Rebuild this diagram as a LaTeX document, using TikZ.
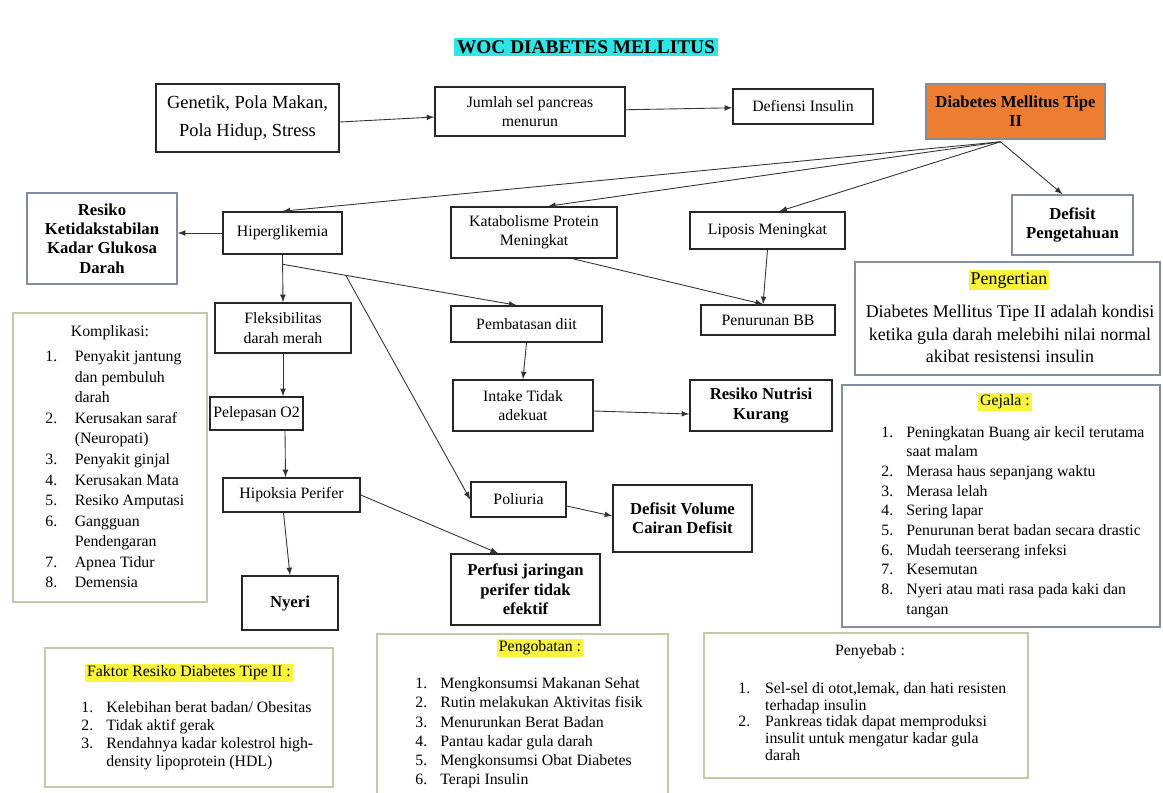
\documentclass[tikz,border=0pt]{standalone}
\usepackage{fontspec}
\setmainfont{Liberation Serif}
\definecolor{oranye}{RGB}{237,125,49}
\definecolor{abubiru}{RGB}{130,142,160}
\definecolor{hijaumuda}{RGB}{190,205,165}
\definecolor{kuning}{RGB}{250,245,60}
\definecolor{sian}{RGB}{45,230,230}
\begin{document}
\begin{tikzpicture}[x=0.02cm,y=-0.02cm,>=latex]
		\tikzstyle{kotak}=[draw=black!85,line width=0.9pt,align=center,inner sep=2pt,font=\fontsize{9}{11}\selectfont]
		\tikzstyle{tebal}=[kotak,font=\bfseries\fontsize{9.5}{11}\selectfont]
		\tikzstyle{keterangan}=[draw=hijaumuda,line width=0.9pt,inner sep=0pt]
		\tikzstyle{stabilo}=[fill=kuning,inner sep=1pt,font=\fontsize{9}{11}\selectfont]
		\tikzstyle{daftar}=[anchor=north west,inner sep=0pt]
		\tikzstyle{panah}=[->,draw=black!80,line width=0.5pt]
		\useasboundingbox (0,0) rectangle (1163,792);
		\node[fill=sian,inner sep=1.5pt,font=\bfseries\fontsize{11}{13}\selectfont] (judul) at (586,47) {WOC DIABETES MELLITUS};
		\node[kotak,font=\fontsize{10.5}{12}\selectfont,minimum width=3.66cm,minimum height=1.36cm] (genetik) at (247.5,118) {Genetik, Pola Makan,\\[4pt] Pola Hidup, Stress};
		\node[kotak,minimum width=3.8cm,minimum height=0.98cm] (jumlah) at (530,111.5) {Jumlah sel pancreas\\ menurun};
		\node[kotak,minimum width=2.8cm,minimum height=0.7cm] (defiensi) at (803,106.5) {Defiensi Insulin};
		\node[tebal,draw=black!45,fill=oranye,minimum width=3.58cm,minimum height=1.1cm] (dm) at (1015.5,111.5) {Diabetes Mellitus Tipe\\ II};
		\node[tebal,draw=abubiru,minimum width=3.0cm,minimum height=1.82cm] (resiko) at (102,238.5) {Resiko\\ Ketidakstabilan\\ Kadar Glukosa\\ Darah};
		\node[kotak,minimum width=2.38cm,minimum height=0.84cm] (hiper) at (282.5,233) {Hiperglikemia};
		\node[kotak,minimum width=3.32cm,minimum height=1.02cm] (katabolisme) at (534,232.5) {Katabolisme Protein\\ Meningkat};
		\node[kotak,minimum width=3.1cm,minimum height=0.74cm] (liposis) at (767.5,230.5) {Liposis Meningkat};
		\node[tebal,draw=abubiru,minimum width=2.42cm,minimum height=1.2cm] (pengetahuan) at (1072.5,225) {Defisit\\ Pengetahuan};
		\node[kotak,minimum width=2.72cm,minimum height=1.0cm] (fleksi) at (283,328) {Fleksibilitas\\ darah merah};
		\node[kotak,minimum width=3.02cm,minimum height=0.72cm] (pembatasan) at (526.5,324) {Pembatasan diit};
		\node[kotak,minimum width=2.68cm,minimum height=0.6cm] (penurunan) at (768,320) {Penurunan BB};
		\node[kotak,minimum width=1.66cm,minimum height=0.66cm] (pelepasan) at (256.5,413.5) {Pelepasan O2};
		\node[kotak,minimum width=2.8cm,minimum height=1.02cm] (intake) at (523,405.5) {Intake Tidak\\ adekuat};
		\node[tebal,minimum width=2.84cm,minimum height=1.02cm] (nutrisi) at (761,405.5) {Resiko Nutrisi\\ Kurang};
		\node[kotak,minimum width=2.74cm,minimum height=0.68cm] (hipoksia) at (291.5,495) {Hipoksia Perifer};
		\node[kotak,minimum width=1.9cm,minimum height=0.7cm] (poliuria) at (518.5,499.5) {Poliuria};
		\node[tebal,minimum width=2.78cm,minimum height=1.34cm] (cairan) at (682.5,518.5) {Defisit Volume\\ Cairan Defisit};
		\node[tebal,minimum width=1.92cm,minimum height=1.08cm] (nyeri) at (290,603) {Nyeri};
		\node[tebal,minimum width=2.98cm,minimum height=1.42cm] (perfusi) at (525.5,589.5) {Perfusi jaringan\\ perifer tidak\\ efektif};

		\node[keterangan,minimum width=3.88cm,minimum height=5.78cm] (komplikasi) at (110,457.5) {};
		\node[font=\fontsize{9}{11}\selectfont] (judulkomplikasi) at (110,333) {Komplikasi:};
		\node[daftar,font=\fontsize{9}{11.7}\selectfont] (isikomplikasi) at (45,347) {\begin{tabular}{@{}l@{\hspace{10pt}}l@{}}
			1. & Penyakit jantung\\ & dan pembuluh\\ & darah\\
			2. & Kerusakan saraf\\ & (Neuropati)\\
			3. & Penyakit ginjal\\
			4. & Kerusakan Mata\\
			5. & Resiko Amputasi\\
			6. & Gangguan\\ & Pendengaran\\
			7. & Apnea Tidur\\
			8. & Demensia
		\end{tabular}};

		\node[draw=abubiru,line width=0.9pt,minimum width=6.1cm,minimum height=2.26cm] (pengertian) at (1007.5,318.5) {};
		\node[stabilo,font=\fontsize{10.2}{12}\selectfont] (judulpengertian) at (1009,280) {Pengertian};
		\node[align=center,inner sep=0pt,font=\fontsize{10.2}{12.8}\selectfont] (isipengertian) at (1010,334) {Diabetes Mellitus Tipe II adalah kondisi\\ ketika gula darah melebihi nilai normal\\ akibat resistensi insulin};

		\node[draw=abubiru,line width=0.9pt,minimum width=6.36cm,minimum height=4.84cm] (gejala) at (1001,506) {};
		\node[stabilo] (judulgejala) at (1005,402) {Gejala :};
		\node[daftar,font=\fontsize{9}{11.2}\selectfont] (isigejala) at (881,423) {\begin{tabular}{@{}l@{\hspace{7.5pt}}l@{}}
			1. & Peningkatan Buang air kecil terutama\\ & saat malam\\
			2. & Merasa haus sepanjang waktu\\
			3. & Merasa lelah\\
			4. & Sering lapar\\
			5. & Penurunan berat badan secara drastic\\
			6. & Mudah teerserang infeksi\\
			7. & Kesemutan\\
			8. & Nyeri atau mati rasa pada kaki dan\\ & tangan
		\end{tabular}};

		\node[keterangan,minimum width=5.76cm,minimum height=2.78cm] (faktor) at (189,717.5) {};
		\node[stabilo] (judulfaktor) at (189,673) {Faktor Resiko Diabetes Tipe II :};
		\node[daftar,font=\fontsize{9}{10.4}\selectfont] (isifaktor) at (81,699) {\begin{tabular}{@{}l@{\hspace{7.5pt}}l@{}}
			1. & Kelebihan berat badan/ Obesitas\\
			2. & Tidak aktif gerak\\
			3. & Rendahnya kadar kolestrol high-\\ & density lipoprotein (HDL)
		\end{tabular}};

		\node[keterangan,anchor=north,minimum width=5.82cm,minimum height=3.4cm] (pengobatan) at (522.5,633) {};
		\node[stabilo] (judulpengobatan) at (540,648) {Pengobatan :};
		\node[daftar,font=\fontsize{9}{10.9}\selectfont] (isipengobatan) at (415,675) {\begin{tabular}{@{}l@{\hspace{7.5pt}}l@{}}
			1. & Mengkonsumsi Makanan Sehat\\
			2. & Rutin melakukan Aktivitas fisik\\
			3. & Menurunkan Berat Badan\\
			4. & Pantau kadar gula darah\\
			5. & Mengkonsumsi Obat Diabetes\\
			6. & Terapi Insulin
		\end{tabular}};

		\node[keterangan,minimum width=6.48cm,minimum height=2.9cm] (penyebab) at (866,705.5) {};
		\node[font=\fontsize{9}{11}\selectfont] (judulpenyebab) at (870,652) {Penyebab :};
		\node[daftar,font=\fontsize{9}{9.6}\selectfont] (isipenyebab) at (738,681) {\begin{tabular}{@{}l@{\hspace{8.5pt}}l@{}}
			1. & Sel-sel di otot,lemak, dan hati resisten\\ & terhadap insulin\\
			2. & Pankreas tidak dapat memproduksi\\ & insulit untuk mengatur kadar gula\\ & darah
		\end{tabular}};

		\coordinate (dmkaki) at ([xshift=-0.3cm,yshift=-0.04cm]dm.south);
		\draw[panah] ([yshift=-0.08cm]genetik.east) -- ([yshift=-0.11cm]jumlah.west);
		\draw[panah] (jumlah) -- (defiensi);
		\draw[panah] (dmkaki) -- (hiper.north);
		\draw[panah] (dmkaki) -- ([xshift=0.28cm]katabolisme.north);
		\draw[panah] (dmkaki) -- ([xshift=0.24cm]liposis.north);
		\draw[panah] (dmkaki) -- ([xshift=-0.2cm]pengetahuan.north);
		\draw[panah] (hiper.west) -- (hiper.west -| resiko.east);
		\draw[panah] (hiper.south) -- coordinate[pos=0.2] (cabang1) (fleksi.north);
		\draw[panah] (cabang1) -- coordinate[pos=0.27] (cabang2) ([xshift=-0.2cm]pembatasan.north);
		\draw[panah] (cabang2) -- (poliuria.west);
		\draw[panah] ([xshift=0.78cm]katabolisme.south) -- ([xshift=-0.1cm]penurunan.north);
		\draw[panah] (liposis.south) -- ([xshift=-0.1cm]penurunan.north);
		\draw[panah] (fleksi.south) -- (fleksi.south |- pelepasan.north);
		\draw[panah] ([xshift=0.57cm]pelepasan.south) -- ([xshift=-0.12cm]hipoksia.north);
		\draw[panah] ([xshift=-0.16cm]hipoksia.south) -- (nyeri.north);
		\draw[panah] (hipoksia.east) -- ([xshift=-0.55cm]perfusi.north);
		\draw[panah] (pembatasan.south) -- (intake.north);
		\draw[panah] ([yshift=-0.11cm]intake.east) -- ([yshift=-0.17cm]nutrisi.west);
		\draw[panah] ([yshift=-0.13cm]poliuria.east) -- ([yshift=0.05cm]cairan.west);
\end{tikzpicture}
\end{document}
